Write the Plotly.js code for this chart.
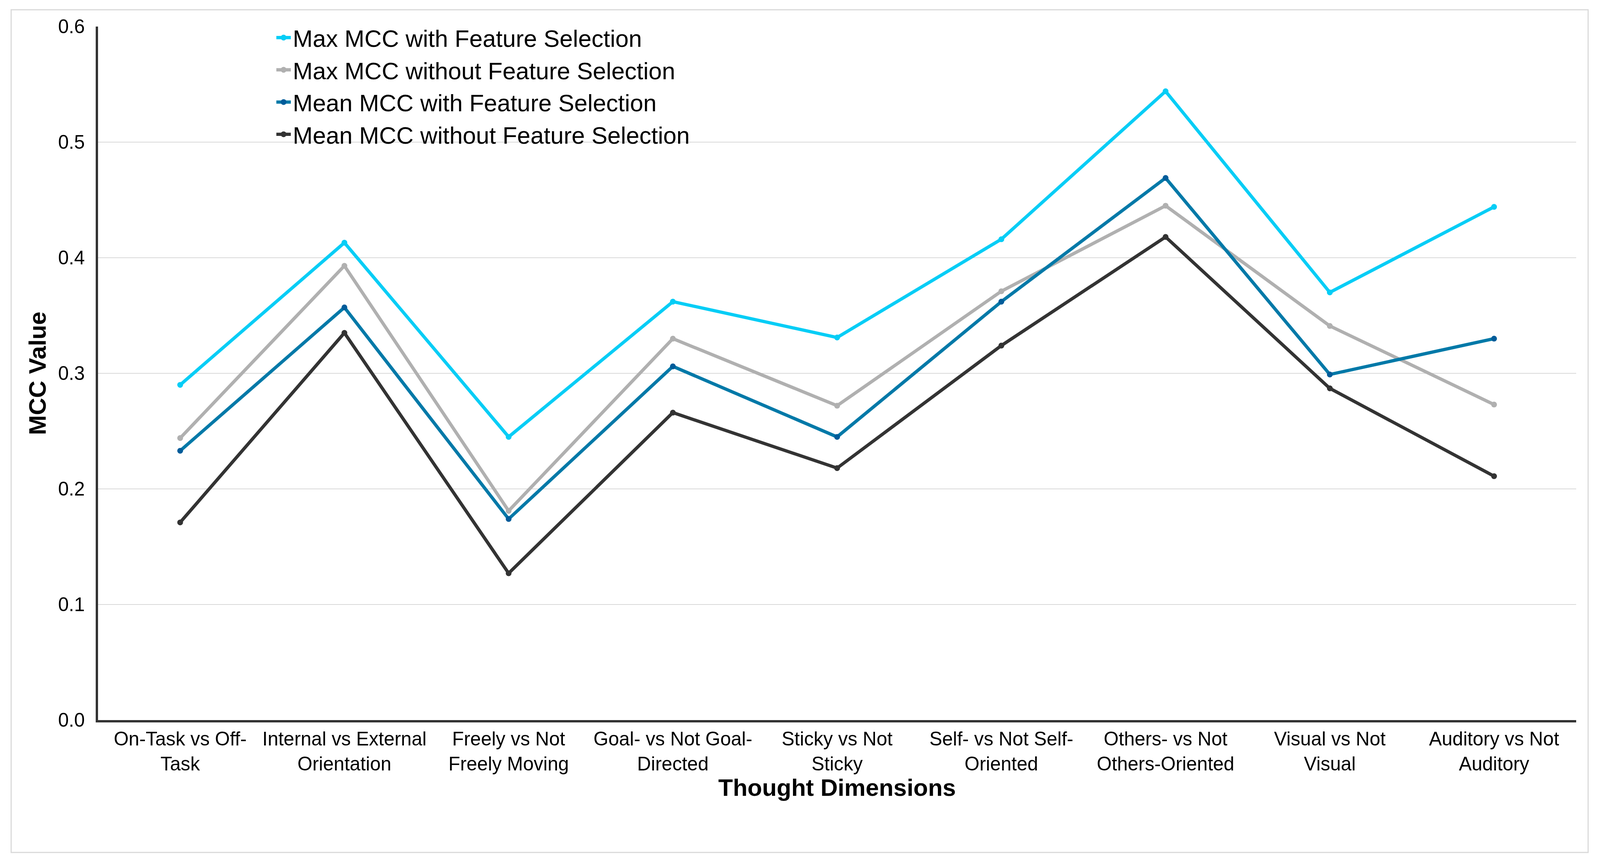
<!DOCTYPE html>
<html>
<head>
<meta charset="utf-8">
<script src="https://cdn.plot.ly/plotly-3.0.1.min.js"></script>
<style>
  html, body { margin: 0; padding: 0; background: #ffffff; overflow: hidden; }
  #chart { position: absolute; left: 0; top: 0; }
</style>
</head>
<body>
<div id="chart"></div>
<script>
// ---- data ----
const categories = [
  "On-Task vs Off-<br>Task",
  "Internal vs External<br>Orientation",
  "Freely vs Not<br>Freely Moving",
  "Goal- vs Not Goal-<br>Directed",
  "Sticky vs Not<br>Sticky",
  "Self- vs Not Self-<br>Oriented",
  "Others- vs Not<br>Others-Oriented",
  "Visual vs Not<br>Visual",
  "Auditory vs Not<br>Auditory"
];
const seriesNames = [
  "Max MCC with Feature Selection",
  "Max MCC without Feature Selection",
  "Mean MCC with Feature Selection",
  "Mean MCC without Feature Selection"
];
const maxWithFS     = [0.290, 0.413, 0.245, 0.362, 0.331, 0.416, 0.544, 0.370, 0.444];
const maxWithoutFS  = [0.244, 0.393, 0.181, 0.330, 0.272, 0.371, 0.445, 0.341, 0.273];
const meanWithFS    = [0.233, 0.357, 0.174, 0.306, 0.245, 0.362, 0.469, 0.299, 0.330];
const meanWithoutFS = [0.171, 0.335, 0.127, 0.266, 0.218, 0.324, 0.418, 0.287, 0.211];
const yTickValues = [0, 0.1, 0.2, 0.3, 0.4, 0.5, 0.6];

// ---- styling ----
const lineColors   = ["#05CDF6", "#B0B0B0", "#0079A8", "#333333"];
const markerColors = ["#05CDF6", "#B0B0B0", "#005C9A", "#333333"];
const FONT = "Liberation Sans, Arial, Helvetica, sans-serif";

// design sizes are for a 4419 x 2210 canvas; scale to the real viewport
const REF_W = 4419, REF_H = 2210;
const W = window.innerWidth || REF_W;
const H = window.innerHeight || REF_H;
const kx = W / REF_W, ky = H / REF_H, k = Math.min(kx, ky);
document.getElementById("chart").style.width = W + "px";
document.getElementById("chart").style.height = H + "px";

const allSeries = [maxWithFS, maxWithoutFS, meanWithFS, meanWithoutFS];
const traces = allSeries.map((vals, i) => ({
  type: "scatter",
  mode: "lines+markers",
  name: seriesNames[i],
  x: categories,
  y: vals,
  line: { color: lineColors[i], width: 9 * k },
  marker: { color: markerColors[i], size: 16 * k },
  cliponaxis: false
}));

const M = { l: 271 * kx, r: 66 * kx, t: 68 * ky, b: 366 * ky, pad: 0 };
const pw = W - M.l - M.r, ph = H - M.t - M.b;
const px = v => (v * kx - M.l) / pw;
const py = v => (H - M.b - v * ky) / ph;

const layout = {
  width: W, height: H,
  margin: M,
  paper_bgcolor: "#ffffff",
  plot_bgcolor: "#ffffff",
  font: { family: FONT, color: "#000000", size: 52 * k },
  showlegend: true,
  legend: {
    x: px(758), y: 1.0 + (18 * ky) / ph, xanchor: "left", yanchor: "top",
    bgcolor: "rgba(0,0,0,0)",
    font: { family: FONT, size: 66 * k, color: "#000000" },
    itemwidth: 40 * k,
    traceorder: "normal"
  },
  xaxis: {
    type: "category",
    range: [-0.5, categories.length - 0.5],
    showgrid: false,
    zeroline: false,
    showline: true,
    linecolor: "#333333",
    linewidth: 7 * k,
    ticks: "",
    tickfont: { family: FONT, size: 53 * k, color: "#000000" },
    ticklabelstandoff: 8 * k,
    title: {
      text: "Thought Dimensions",
      font: { family: FONT, size: 66 * k, color: "#000000", weight: "bold" },
      standoff: 8 * k
    }
  },
  yaxis: {
    range: [0, 0.6],
    tickvals: yTickValues,
    tickformat: ".1f",
    showgrid: true,
    gridcolor: "#D9D9D9",
    gridwidth: 3 * k,
    zeroline: false,
    showline: true,
    linecolor: "#333333",
    linewidth: 7 * k,
    ticks: "outside",
    ticklen: 19 * k,
    tickcolor: "rgba(0,0,0,0)",
    tickfont: { family: FONT, size: 53 * k, color: "#000000" },
    title: {
      text: "MCC Value",
      font: { family: FONT, size: 66 * k, color: "#000000", weight: "bold" },
      standoff: 15 * k
    }
  },
  shapes: [{
    type: "rect", xref: "paper", yref: "paper", layer: "below",
    x0: px(31), x1: px(4386), y0: py(2183), y1: py(25),
    line: { color: "#D9D9D9", width: 3 * k },
    fillcolor: "rgba(0,0,0,0)"
  }]
};

Plotly.newPlot("chart", traces, layout, { staticPlot: true, displayModeBar: false });
</script>
</body>
</html>
